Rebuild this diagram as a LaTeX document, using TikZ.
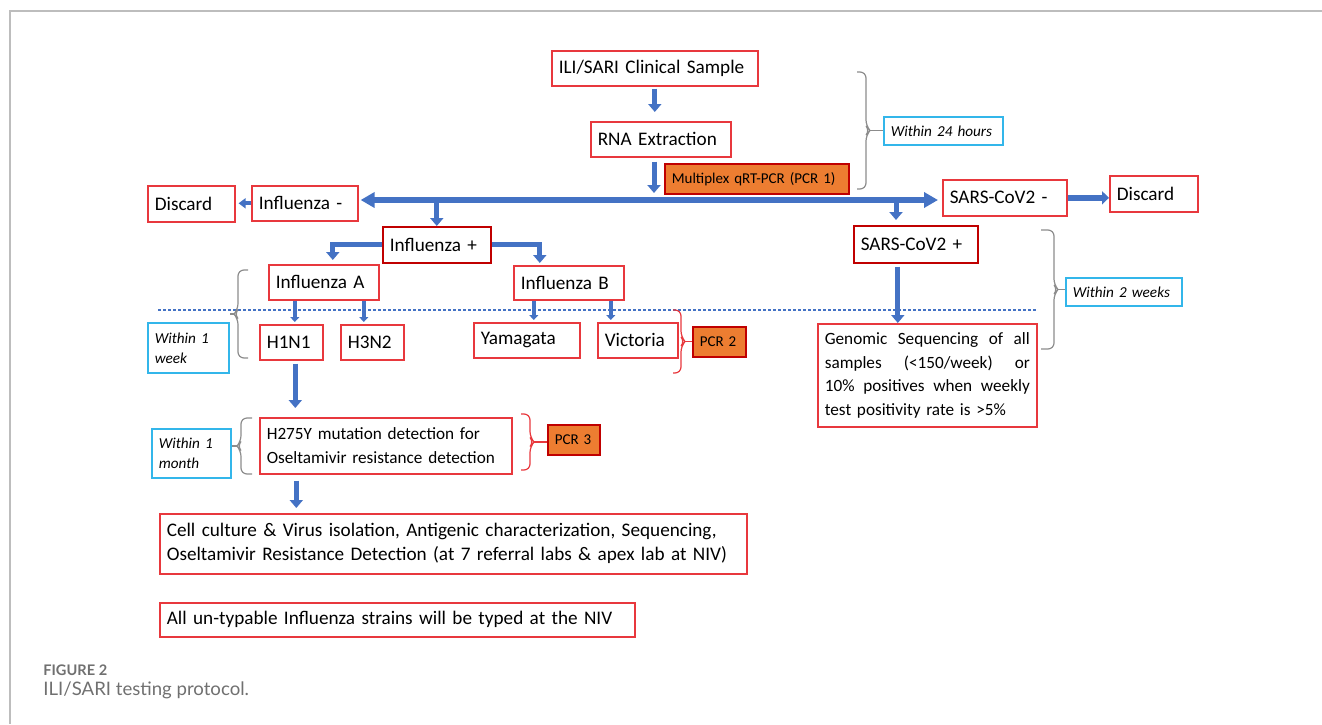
\documentclass[tikz,border=0pt]{standalone}
\usepackage{fontspec}
\setmainfont{Carlito}
\newfontfamily\capfont{Lato}
\usetikzlibrary{arrows.meta}
\definecolor{boxred}{HTML}{E8383D}
\definecolor{darkred}{HTML}{C00000}
\definecolor{pcrorange}{HTML}{ED7D31}
\definecolor{tealine}{HTML}{33B6EA}
\definecolor{flowblue}{HTML}{4472C4}
\definecolor{bracegray}{HTML}{8C8C8C}
\definecolor{capgray}{HTML}{707070}
\definecolor{framegray}{HTML}{BDBDBD}
\begin{document}
\begin{tikzpicture}[x=0.5pt,y=-0.5pt,
    every node/.style={font=\fontsize{9.6}{12}\selectfont, anchor=north west, inner xsep=3.5pt, inner ysep=1pt, align=left},
    rbox/.style={draw=boxred, fill=white, line width=0.8pt},
    dbox/.style={draw=darkred, fill=white, line width=0.8pt},
    pcr/.style={draw=darkred, fill=pcrorange, line width=0.8pt, font=\fontsize{7.5}{9}\selectfont},
    tbox/.style={draw=tealine, fill=white, line width=0.8pt, font=\fontsize{7.6}{10}\selectfont\itshape},
    bigarr/.style={flowblue, line width=2.75pt, -{Triangle[width=7.5pt,length=7pt]}},
    midarr/.style={flowblue, line width=2.5pt, -{Triangle[width=6.5pt,length=4pt]}},
    smallarr/.style={flowblue, line width=1.75pt, -{Triangle[width=4.5pt,length=2.5pt]}},
    gbrk/.style={bracegray, line width=0.6pt, rounded corners=3pt},
    rbrk/.style={gbrk, draw=boxred},
    tipline/.style={bracegray, line width=0.6pt}]
    \useasboundingbox (0,0) rectangle (1322,724);
    \draw [framegray, line width=0.75pt] (1322,11) -- (10,11) -- (10,724);
    \draw [flowblue, line width=1pt, dash pattern=on 1.5pt off 1pt] (158,310) -- (1036,310);
    \node [rbox, text width=96pt, minimum height=17.5pt] (sample) at (551,50) {ILI/SARI Clinical Sample};
    \node [rbox, text width=63pt, minimum height=17.5pt] (rna) at (590,121) {RNA Extraction};
    \node [pcr, text width=85pt, minimum height=15pt] (pcrone) at (664,163) {Multiplex qRT-PCR (PCR 1)};
    \node [rbox, text width=36.5pt, minimum height=18pt] (discardL) at (147,185) {Discard};
    \node [rbox, text width=46pt, minimum height=17.5pt] (infneg) at (251,185) {Influenza -};
    \node [rbox, text width=55pt, minimum height=18pt] (sarsneg) at (942,179) {SARS-CoV2 -};
    \node [rbox, text width=37pt, minimum height=18pt] (discardR) at (1109,175) {Discard};
    \node [dbox, text width=47pt, minimum height=18pt] (infpos) at (382,226) {Influenza +};
    \node [dbox, text width=55pt, minimum height=18.5pt] (sarspos) at (853,225) {SARS-CoV2 +};
    \node [rbox, text width=48pt, minimum height=17.5pt] (infA) at (268,264) {Influenza A};
    \node [rbox, text width=48pt, minimum height=17pt] (infB) at (513,265) {Influenza B};
    \node [rbox, text width=24.5pt, minimum height=17.5pt] (hone) at (259,324) {H1N1};
    \node [rbox, text width=24.5pt, minimum height=17.5pt] (hthree) at (340,324) {H3N2};
    \node [rbox, text width=46pt, minimum height=17.5pt] (yam) at (473,322) {Yamagata};
    \node [rbox, text width=33pt, minimum height=17.5pt] (vic) at (597,322) {Victoria};
    \node [pcr, text width=19.5pt, minimum height=15pt] (pcrtwo) at (692,326) {PCR 2};
    \node [rbox, text width=102.5pt, minimum height=51.5pt, font=\fontsize{8.6}{11.8}\selectfont] (genomic) at (817,323)
        {Genomic \hfill Sequencing \hfill of \hfill all\\ samples \hfill (<150/week) \hfill or\\ 10\% \hfill positives \hfill when \hfill weekly\\ test positivity rate is >5\%};
    \node [rbox, text width=119pt, minimum height=28pt, font=\fontsize{8.6}{11.8}\selectfont] (hsev) at (259,417)
        {H275Y mutation detection for\\ Oseltamivir resistance detection};
    \node [pcr, text width=19pt, minimum height=15pt] (pcrthree) at (547,424) {PCR 3};
    \node [rbox, text width=286.5pt, minimum height=30pt] (cell) at (159,513)
        {Cell culture \& Virus isolation, Antigenic characterization, Sequencing,\\ Oseltamivir Resistance Detection (at 7 referral labs \& apex lab at NIV)};
    \node [rbox, text width=230.5pt, minimum height=17pt] (untyp) at (159,602) {All un-typable Influenza strains will be typed at the NIV};
    \node [tbox, text width=52.5pt, minimum height=14pt] (wday) at (883,116) {Within 24 hours};
    \node [tbox, text width=51pt, minimum height=14pt] (wtwo) at (1065,277) {Within 2 weeks};
    \node [tbox, text width=33.5pt, minimum height=25pt] (wweek) at (147,322) {Within 1\\ week};
    \node [tbox, text width=32.5pt, minimum height=24.5pt] (wmonth) at (151,428) {Within 1\\ month};
    \coordinate (split) at (654,200);
    \coordinate (sdrop) at (896,200);
    \draw [midarr, shorten <=1pt, shorten >=4.5pt] (sample.south) -- (sample.south |- rna.north);
    \draw [midarr, shorten <=2pt, shorten >=3.5pt] (split |- rna.south) -- (split);
    \draw [bigarr, shorten >=1pt] (split) -- (split -| infneg.east);
    \draw [bigarr, shorten >=2pt] (split) -- (split -| sarsneg.west);
    \draw [flowblue, line width=2pt, -{Triangle[width=5pt,length=3.5pt]}, shorten >=1.5pt] (infneg.west) -- (infneg.west -| discardL.east);
    \draw [flowblue, line width=3pt, -{Triangle[width=6.5pt,length=3.5pt]}] (sarsneg.east) -- (sarsneg.east -| discardR.west);
    \draw [midarr] (infpos.north |- split) -- (infpos.north);
    \draw [midarr, shorten >=2.5pt] (sdrop) -- (sdrop |- sarspos.north);
    \draw [midarr, shorten >=2pt] (infpos.west) -| ([xshift=4.5pt]infA.north);
    \draw [midarr, shorten >=1pt] (infpos.east) -| ([xshift=-14.5pt]infB.north);
    \draw [smallarr, shorten >=1pt] ([xshift=1.75pt]hone.north |- infA.south) -- ([xshift=1.75pt]hone.north);
    \draw [smallarr, shorten >=1pt] ([xshift=-4.25pt]hthree.north |- infA.south) -- ([xshift=-4.25pt]hthree.north);
    \draw [smallarr, shorten >=1pt] ([xshift=3.5pt]yam.north |- infB.south) -- ([xshift=3.5pt]yam.north);
    \draw [smallarr, shorten >=1pt] ([xshift=-13.5pt]vic.north |- infB.south) -- ([xshift=-13.5pt]vic.north);
    \draw [midarr, shorten <=1.5pt, shorten >=4.5pt] ([xshift=2pt]hone.south) -- ([xshift=2pt]hone.south |- hsev.north);
    \draw [midarr, shorten <=3pt, shorten >=2.5pt] ([xshift=2.5pt]hone.south |- hsev.south) -- ([xshift=2.5pt]hone.south |- cell.north);
    \draw [midarr, shorten <=1.5pt] ([xshift=-9pt]sarspos.south) -- ([xshift=-9pt]sarspos.south |- genomic.north);
    \draw [gbrk] (857,72) -- (866,72) -- (866,126) -- (870,130.5) -- (866,135) -- (866,189) -- (857,189);
    \coordinate (tday) at (870,130.5);
    \draw [tipline] (tday) -- (tday -| wday.west);
    \draw [gbrk] (1041,230) -- (1054,230) -- (1054,285) -- (1058,289.5) -- (1054,294) -- (1054,349) -- (1041,349);
    \coordinate (ttwo) at (1058,289.5);
    \draw [tipline] (ttwo) -- (ttwo -| wtwo.west);
    \draw [gbrk] (248,270) -- (238,270) -- (238,309.5) -- (234,314) -- (238,318.5) -- (238,358) -- (248,358);
    \coordinate (tweek) at (234,314);
    \draw [tipline] (tweek) -- (tweek -| wweek.east);
    \draw [gbrk] (252,418) -- (241,418) -- (241,441.5) -- (237,446) -- (241,450.5) -- (241,474) -- (252,474);
    \coordinate (tmonth) at (237,446);
    \draw [tipline] (tmonth) -- (tmonth -| wmonth.east);
    \draw [rbrk] (673,310) -- (681,310) -- (681,337) -- (685,341.5) -- (681,346) -- (681,373) -- (673,373);
    \coordinate (tpcrtwo) at (685,341.5);
    \draw [tipline, boxred] (tpcrtwo) -- (tpcrtwo -| pcrtwo.west);
    \draw [rbrk] (521,414) -- (530,414) -- (530,437.5) -- (534,442) -- (530,446.5) -- (530,470) -- (521,470);
    \coordinate (tpcrthree) at (534,442);
    \draw [tipline, boxred] (tpcrthree) -- (tpcrthree -| pcrthree.west);
    \node [anchor=base west, inner sep=0pt, text=capgray, font=\capfont\bfseries\fontsize{7.3}{9}\selectfont] (figlab) at (43,675) {FIGURE 2};
    \node [anchor=base west, inner sep=0pt, text=capgray, font=\capfont\fontsize{9.3}{12}\selectfont] (figcap) at (43,695) {ILI/SARI testing protocol.};
\end{tikzpicture}
\end{document}
